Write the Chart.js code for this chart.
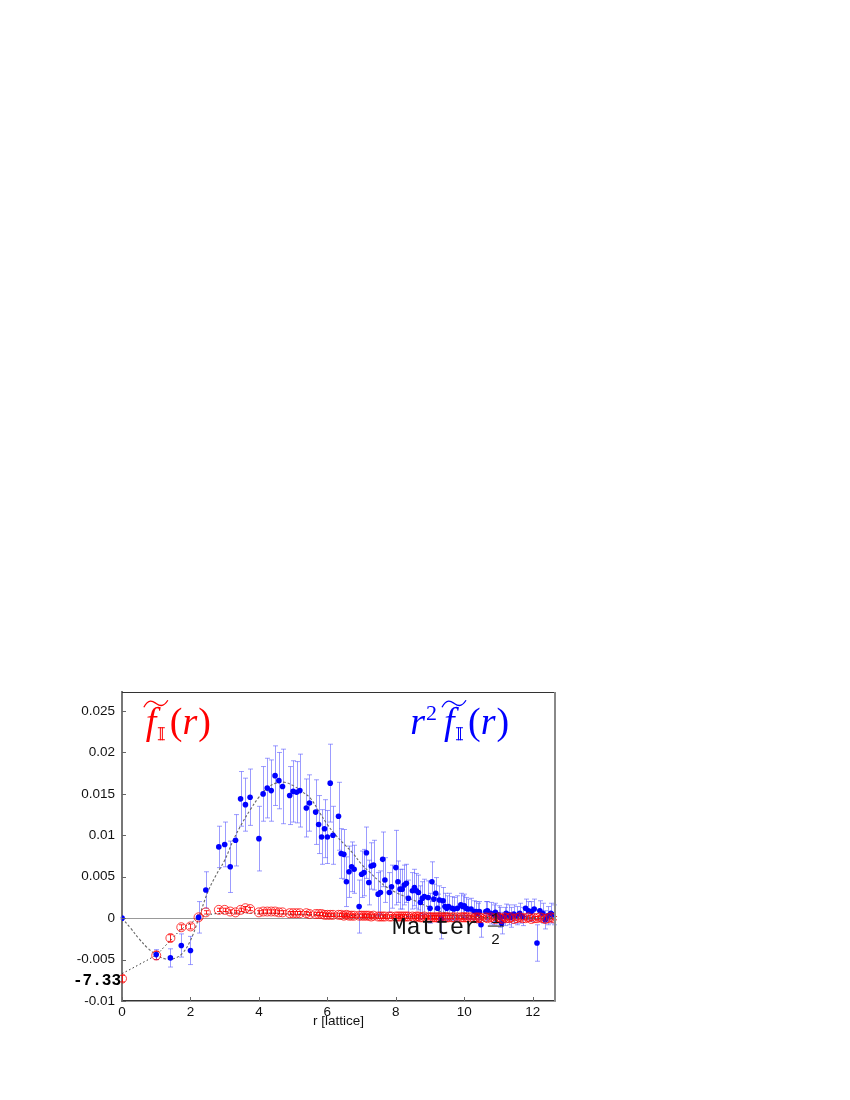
<!DOCTYPE html>
<html>
<head>
<meta charset="utf-8">
<script src="https://cdn.jsdelivr.net/npm/chart.js@4.4.1/dist/chart.umd.min.js"></script>
<style>
  html, body { margin: 0; padding: 0; background: #fff; }
  #chart { display: block; }
</style>
</head>
<body>
<canvas id="chart" width="850" height="1100"></canvas>
<script>
// lattice distances r (same for both series)
const rVals = [
    0, 1, 1.414, 1.732, 2, 2.236, 2.449, 2.828, 3, 3.162,
    3.317, 3.464, 3.606, 3.742, 4, 4.123, 4.243, 4.359, 4.472, 4.583,
    4.690, 4.899, 5, 5.099, 5.196, 5.385, 5.477, 5.657, 5.745, 5.831,
    5.916, 6, 6.083, 6.164, 6.325, 6.403, 6.481, 6.557, 6.633, 6.708,
    6.782, 6.928, 7, 7.071, 7.141, 7.211, 7.280, 7.348, 7.483, 7.550,
    7.616, 7.681, 7.810, 7.874, 8, 8.062, 8.124, 8.185, 8.246, 8.307,
    8.367, 8.485, 8.544, 8.602, 8.660, 8.718, 8.775, 8.832, 8.944, 9,
    9.055, 9.110, 9.165, 9.220, 9.274, 9.327, 9.381, 9.434, 9.487, 9.539,
    9.644, 9.695, 9.798, 9.899, 9.950, 10, 10.050, 10.100, 10.198, 10.296,
    10.344, 10.392, 10.440, 10.488, 10.630, 10.677, 10.770, 10.863, 10.909, 11,
    11.045, 11.091, 11.180, 11.225, 11.314, 11.358, 11.446, 11.533, 11.619, 11.705,
    11.790, 11.874, 11.958, 12.042, 12.124, 12.207, 12.288, 12.369, 12.450, 12.530,
    12.610
];

// r^2 f(r)  (blue, filled)
const blueVals = [
    0, -0.0044, -0.0048, -0.0033, -0.0039, 0.0001, 0.0034, 0.0086, 0.0089, 0.0062,
    0.0094, 0.0144, 0.0137, 0.0146, 0.0096, 0.0150, 0.0157, 0.0154, 0.0172, 0.0166,
    0.0159, 0.0148, 0.0153, 0.0152, 0.0154, 0.0133, 0.0139, 0.0128, 0.0113, 0.0098,
    0.0108, 0.0098, 0.0163, 0.0100, 0.0123, 0.0078, 0.0077, 0.0044, 0.0056, 0.0062,
    0.0059, 0.0014, 0.0053, 0.0055, 0.0079, 0.0043, 0.0063, 0.0064, 0.0029, 0.0031,
    0.0071, 0.0046, 0.0031, 0.0038, 0.0061, 0.0044, 0.0035, 0.0035, 0.0040, 0.0042,
    0.0024, 0.0033, 0.0037, 0.0033, 0.0031, 0.0019, 0.0024, 0.0026, 0.0025, 0.0012,
    0.0044, 0.0023, 0.0030, 0.0012, 0.0022, -0.0001, 0.0021, 0.0014, 0.0012, 0.0014,
    0.0012, 0.0011, 0.0012, 0.0016, 0.0014, 0.0015, 0.0012, 0.0011, 0.0011, 0.0008,
    0.0008, 0.0006, 0.0008, -0.0008, 0.0008, 0.0009, 0.0006, 0.0004, 0.0007, 0.0004,
    0.0001, -0.0006, 0.0002, 0.0006, 0.0004, 0.0001, 0.0005, 0.0003, 0.0006, 0.0002,
    0.0012, 0.0009, 0.0008, 0.0011, -0.0030, 0.0009, 0.0006, -0.0002, 0.0003, 0.0006,
    0.0004
];
const blueErr = [
    0.0001, 0.0006, 0.0011, 0.0014, 0.0017, 0.0019, 0.0022, 0.0025, 0.0027, 0.0031,
    0.0031, 0.0033, 0.0032, 0.0034, 0.0039, 0.0033, 0.0036, 0.0037, 0.0036, 0.0034,
    0.0045, 0.0035, 0.0037, 0.0037, 0.0044, 0.0035, 0.0034, 0.0039, 0.0035, 0.0033,
    0.0035, 0.0032, 0.0047, 0.0035, 0.0041, 0.0030, 0.0030, 0.0030, 0.0031, 0.0030,
    0.0029, 0.0032, 0.0028, 0.0028, 0.0031, 0.0027, 0.0028, 0.0030, 0.0026, 0.0026,
    0.0033, 0.0027, 0.0024, 0.0026, 0.0045, 0.0025, 0.0024, 0.0024, 0.0024, 0.0023,
    0.0022, 0.0022, 0.0022, 0.0021, 0.0021, 0.0020, 0.0020, 0.0021, 0.0020, 0.0018,
    0.0024, 0.0018, 0.0019, 0.0017, 0.0017, 0.0024, 0.0016, 0.0016, 0.0015, 0.0016,
    0.0014, 0.0014, 0.0015, 0.0014, 0.0013, 0.0014, 0.0013, 0.0012, 0.0013, 0.0013,
    0.0012, 0.0012, 0.0012, 0.0015, 0.0012, 0.0011, 0.0013, 0.0012, 0.0011, 0.0011,
    0.0012, 0.0013, 0.0011, 0.0011, 0.0012, 0.0012, 0.0011, 0.0011, 0.0012, 0.0011,
    0.0011, 0.0011, 0.0012, 0.0012, 0.0022, 0.0012, 0.0012, 0.0011, 0.0011, 0.0012,
    0.0012
];

// f(r)  (red, open circles)
const redVals = [
    -0.0073, -0.0045, -0.0024, -0.0011, -0.0010, 0.0001, 0.0007, 0.0010, 0.0010, 0.0008,
    0.0007, 0.0010, 0.0012, 0.0011, 0.0007, 0.0008, 0.0008, 0.0008, 0.0008, 0.0007,
    0.0007, 0.0006, 0.0006, 0.0006, 0.0006, 0.0006, 0.0005, 0.0005, 0.0005, 0.0005,
    0.0004, 0.0004, 0.0004, 0.0004, 0.0004, 0.0004, 0.0003, 0.0004, 0.0003, 0.0003,
    0.0003, 0.0003, 0.0003, 0.0003, 0.0003, 0.0003, 0.0002, 0.0003, 0.0002, 0.0002,
    0.0002, 0.0002, 0.0002, 0.0002, 0.0002, 0.0002, 0.0002, 0.0002, 0.0002, 0.0002,
    0.0002, 0.0002, 0.0001, 0.0002, 0.0002, 0.0001, 0.0001, 0.0002, 0.0001, 0.0001,
    0.0001, 0.0001, 0.0001, 0.0001, 0.0001, 0.0001, 0.0001, 0.0001, 0.0001, 0.0001,
    0.0001, 0.0001, 0.0001, 0.0001, 0.0001, 0.0001, 0.0001, 0.0001, 0.0001, 0.0000,
    0.0001, 0.0000, 0.0001, 0.0000, 0.0001, 0.0000, 0.0001, 0.0000, -0.0001, 0.0001,
    0.0000, -0.0001, 0.0001, 0.0000, 0.0000, 0.0001, -0.0001, 0.0000, 0.0001, 0.0000,
    0.0000, 0.0001, -0.0001, 0.0000, 0.0000, 0.0001, 0.0000, -0.0001, 0.0000, 0.0001,
    0.0000
];
const redErr = [
    0.0004, 0.0005, 0.0004, 0.0003, 0.0003, 0.0003, 0.0002, 0.0002, 0.0002, 0.0002,
    0.0002, 0.0002, 0.0002, 0.0002, 0.0002, 0.0002, 0.0002, 0.0002, 0.0002, 0.0002,
    0.0002, 0.0002, 0.0002, 0.0002, 0.0002, 0.0002, 0.0002, 0.0002, 0.0002, 0.0002,
    0.0002, 0.0002, 0.0002, 0.0002, 0.0002, 0.0002, 0.0002, 0.0002, 0.0002, 0.0002,
    0.0002, 0.0002, 0.0002, 0.0002, 0.0002, 0.0002, 0.0002, 0.0002, 0.0002, 0.0002,
    0.0002, 0.0002, 0.0002, 0.0002, 0.0002, 0.0002, 0.0002, 0.0002, 0.0002, 0.0002,
    0.0002, 0.0002, 0.0002, 0.0002, 0.0002, 0.0002, 0.0002, 0.0002, 0.0002, 0.0002,
    0.0002, 0.0002, 0.0002, 0.0002, 0.0002, 0.0002, 0.0002, 0.0002, 0.0002, 0.0002,
    0.0002, 0.0002, 0.0002, 0.0002, 0.0002, 0.0002, 0.0002, 0.0002, 0.0002, 0.0002,
    0.0002, 0.0002, 0.0002, 0.0002, 0.0002, 0.0002, 0.0002, 0.0002, 0.0002, 0.0002,
    0.0002, 0.0002, 0.0002, 0.0002, 0.0002, 0.0002, 0.0002, 0.0002, 0.0002, 0.0002,
    0.0002, 0.0002, 0.0002, 0.0002, 0.0002, 0.0002, 0.0002, 0.0002, 0.0002, 0.0002,
    0.0002
];

// fitted curves
const blueFitR = [0, 0.25, 0.5, 0.75, 1, 1.25, 1.5, 1.75, 2, 2.25, 2.5, 2.75, 3, 3.25, 3.5, 3.75,
    4, 4.25, 4.5, 4.75, 5, 5.25, 5.5, 5.75, 6, 6.25, 6.5, 6.75, 7, 7.25, 7.5, 7.75, 8, 8.5, 9, 9.5,
    10, 10.5, 11, 12, 12.65];
const blueFitV = [0, -0.0012, -0.0025, -0.0036, -0.0044, -0.0049, -0.0049, -0.0043, -0.0027, 0.0001,
    0.0031, 0.0052, 0.0070, 0.0094, 0.0114, 0.0131, 0.0146, 0.0157, 0.0163, 0.0164, 0.0160, 0.0153,
    0.0145, 0.0129, 0.0113, 0.0100, 0.0089, 0.0078, 0.0065, 0.0055, 0.0045, 0.0037, 0.0031, 0.0022,
    0.0013, 0.0006, 0.0003, 0.0001, 0, 0, 0];
const redFitR = [0, 0.5, 1, 1.25, 1.5, 1.75, 2, 2.25, 2.5, 3, 4, 5, 6, 8, 10, 12.65];
const redFitV = [-0.0067, -0.0056, -0.0044, -0.0034, -0.0023, -0.0013, -0.0006, 0, 0.0004, 0.0006,
    0.0006, 0.0005, 0.0004, 0.0002, 0.0001, 0];

const xTicks = [0, 2, 4, 6, 8, 10, 12];
const yTicks = [-0.01, -0.005, 0, 0.005, 0.01, 0.015, 0.02, 0.025];
const interceptLabel = '-7.33';

const toPoints = (xs, ys) => xs.map((x, i) => ({ x: x, y: ys[i] }));

// Error bars, drawn under the markers
const errorBarPlugin = {
    id: 'errorBars',
    beforeDatasetsDraw(chart) {
        const { ctx, scales: { x, y } } = chart;
        chart.data.datasets.forEach(ds => {
            if (!ds.errors) return;
            ctx.save();
            ctx.strokeStyle = ds.errorColor;
            ctx.lineWidth = 1;
            ds.data.forEach((p, k) => {
                const e = ds.errors[k];
                const px = Math.round(x.getPixelForValue(p.x)) + 0.5;
                const top = y.getPixelForValue(p.y + e);
                const bot = y.getPixelForValue(p.y - e);
                ctx.beginPath();
                ctx.moveTo(px, top);
                ctx.lineTo(px, bot);
                ctx.moveTo(px - 2.5, top);
                ctx.lineTo(px + 2.5, top);
                ctx.moveTo(px - 2.5, bot);
                ctx.lineTo(px + 2.5, bot);
                ctx.stroke();
            });
            ctx.restore();
        });
    }
};

// double-struck I drawn by hand (font coverage is unreliable)
function drawBlackboardI(ctx, x, base, h) {
    ctx.save();
    ctx.lineWidth = 1;
    ctx.beginPath();
    ctx.moveTo(x, base - h + 0.5); ctx.lineTo(x + 7, base - h + 0.5);
    ctx.moveTo(x, base - 0.5); ctx.lineTo(x + 7, base - 0.5);
    ctx.moveTo(x + 2.5, base - h); ctx.lineTo(x + 2.5, base);
    ctx.moveTo(x + 4.5, base - h); ctx.lineTo(x + 4.5, base);
    ctx.stroke();
    ctx.restore();
}

// f~_I(r), optionally prefixed with r^2
function drawFLabel(ctx, x, base, color, withR2) {
    ctx.save();
    ctx.fillStyle = color;
    ctx.strokeStyle = color;
    ctx.textBaseline = 'alphabetic';
    ctx.textAlign = 'left';
    const italic = 'italic 38px "Liberation Serif", serif';
    const upright = '38px "Liberation Serif", serif';
    let cx = x;
    if (withR2) {
        ctx.font = italic;
        ctx.fillText('r', cx, base);
        cx += ctx.measureText('r').width + 1;
        ctx.font = '22px "Liberation Serif", serif';
        ctx.fillText('2', cx, base - 14);
        cx += ctx.measureText('2').width + 3;
    }
    // f
    ctx.font = italic;
    ctx.fillText('f', cx + 4, base);
    // wide tilde above f
    ctx.lineWidth = 1.3;
    ctx.beginPath();
    ctx.moveTo(cx + 2, base - 27);
    ctx.bezierCurveTo(cx + 7, base - 36, cx + 11, base - 33, cx + 14, base - 31);
    ctx.bezierCurveTo(cx + 17, base - 29, cx + 21, base - 26, cx + 26, base - 34);
    ctx.stroke();
    // subscript I
    drawBlackboardI(ctx, cx + 16, base + 6, 13);
    // (r)
    cx += 28;
    ctx.font = upright;
    ctx.fillText('(', cx, base);
    cx += ctx.measureText('(').width;
    ctx.font = italic;
    ctx.fillText('r', cx, base);
    cx += ctx.measureText('r').width + 1;
    ctx.font = upright;
    ctx.fillText(')', cx, base);
    ctx.restore();
}

// frame, inward ticks and text annotations
const decorPlugin = {
    id: 'decor',
    afterDraw(chart) {
        const { ctx, chartArea: a, scales: { x, y } } = chart;
        ctx.save();
        // inward tick marks
        ctx.strokeStyle = '#666';
        ctx.lineWidth = 1;
        ctx.beginPath();
        yTicks.forEach(v => {
            const py = Math.round(y.getPixelForValue(v)) + 0.5;
            ctx.moveTo(a.left, py);
            ctx.lineTo(a.left + 4, py);
        });
        xTicks.forEach(v => {
            const px = Math.round(x.getPixelForValue(v)) + 0.5;
            ctx.moveTo(px, a.bottom);
            ctx.lineTo(px, a.bottom - 4);
        });
        ctx.stroke();
        // top and right frame
        ctx.strokeStyle = '#333';
        ctx.lineWidth = 1;
        ctx.beginPath();
        ctx.moveTo(a.left, a.top + 0.5);
        ctx.lineTo(a.right, a.top + 0.5);
        ctx.stroke();
        ctx.strokeStyle = '#888';
        ctx.lineWidth = 2;
        ctx.beginPath();
        ctx.moveTo(a.right, a.top);
        ctx.lineTo(a.right, a.bottom);
        ctx.stroke();

        // intercept value on the left
        ctx.fillStyle = '#000';
        ctx.font = 'bold 16px "Liberation Mono", monospace';
        ctx.textAlign = 'right';
        ctx.textBaseline = 'middle';
        ctx.fillText(interceptLabel, a.left - 1, y.getPixelForValue(redVals[0]) + 2);

        // series labels
        drawFLabel(ctx, x.getPixelForValue(0.58), y.getPixelForValue(0.0222), '#ff0000', false);
        drawFLabel(ctx, x.getPixelForValue(8.42), y.getPixelForValue(0.0222), '#0000ff', true);

        // "Matter 1/2"
        const mx = x.getPixelForValue(7.89);
        const my = y.getPixelForValue(-0.00186);
        ctx.fillStyle = '#111';
        ctx.textAlign = 'left';
        ctx.textBaseline = 'alphabetic';
        ctx.font = '24px "Liberation Mono", monospace';
        ctx.fillText('Matter', mx, my);
        const fx = mx + ctx.measureText('Matter ').width - 2;
        ctx.font = '15px "Liberation Mono", monospace';
        ctx.fillText('1', fx, my - 11);
        ctx.fillText('2', fx, my + 10);
        ctx.strokeStyle = '#111';
        ctx.lineWidth = 1;
        ctx.beginPath();
        ctx.moveTo(fx - 3, my - 7.5);
        ctx.lineTo(fx + 13, my - 7.5);
        ctx.stroke();
        ctx.restore();
    }
};

const tickFont = { family: '"Liberation Sans", Arial, sans-serif', size: 13.5 };

new Chart(document.getElementById('chart'), {
    type: 'scatter',
    data: {
        datasets: [
            {
                label: 'f(r)',
                data: toPoints(rVals, redVals),
                errors: redErr,
                errorColor: 'rgba(255,0,0,0.85)',
                pointStyle: 'circle',
                pointRadius: 4.5,
                backgroundColor: 'rgba(0,0,0,0)',
                borderColor: 'rgba(255,0,0,0.75)',
                borderWidth: 1
            },
            {
                label: 'r^2 f(r)',
                data: toPoints(rVals, blueVals),
                errors: blueErr,
                errorColor: 'rgba(90,90,255,0.6)',
                pointRadius: 2.8,
                backgroundColor: '#0000ff',
                borderColor: '#0000ff',
                borderWidth: 0
            },
            {
                label: 'fit f',
                data: toPoints(redFitR, redFitV),
                showLine: true,
                pointRadius: 0,
                borderColor: '#333',
                borderWidth: 1,
                borderDash: [1.5, 2.5],
                tension: 0.4
            },
            {
                label: 'fit r2f',
                data: toPoints(blueFitR, blueFitV),
                showLine: true,
                pointRadius: 0,
                borderColor: '#666',
                borderWidth: 1.1,
                borderDash: [2.5, 2],
                tension: 0.4
            }
        ]
    },
    options: {
        responsive: false,
        animation: false,
        layout: { padding: { left: 62, top: 692, right: 295, bottom: 71 } },
        plugins: {
            legend: { display: false },
            tooltip: { enabled: false }
        },
        scales: {
            x: {
                type: 'linear',
                min: 0,
                max: 12.65,
                afterBuildTicks: s => { s.ticks = xTicks.map(v => ({ value: v })); },
                afterFit: s => { s.height = 28; },
                grid: { display: false, drawTicks: false },
                border: { display: true, color: '#333', width: 1.5 },
                ticks: { color: '#111', font: tickFont, padding: 3, maxRotation: 0 },
                title: {
                    display: true,
                    text: 'r [lattice]',
                    color: '#111',
                    font: tickFont,
                    padding: { top: 0, bottom: 0 }
                }
            },
            y: {
                type: 'linear',
                min: -0.01,
                max: 0.0273,
                afterBuildTicks: s => { s.ticks = yTicks.map(v => ({ value: v })); },
                afterFit: s => { s.width = 60; },
                grid: {
                    drawTicks: false,
                    color: c => (c.tick && c.tick.value === 0 ? '#999' : 'rgba(0,0,0,0)'),
                    lineWidth: 1
                },
                border: { display: true, color: '#777', width: 2 },
                ticks: {
                    color: '#111',
                    font: tickFont,
                    padding: 7,
                    callback: v => String(v)
                }
            }
        }
    },
    plugins: [errorBarPlugin, decorPlugin]
});
</script>
</body>
</html>
